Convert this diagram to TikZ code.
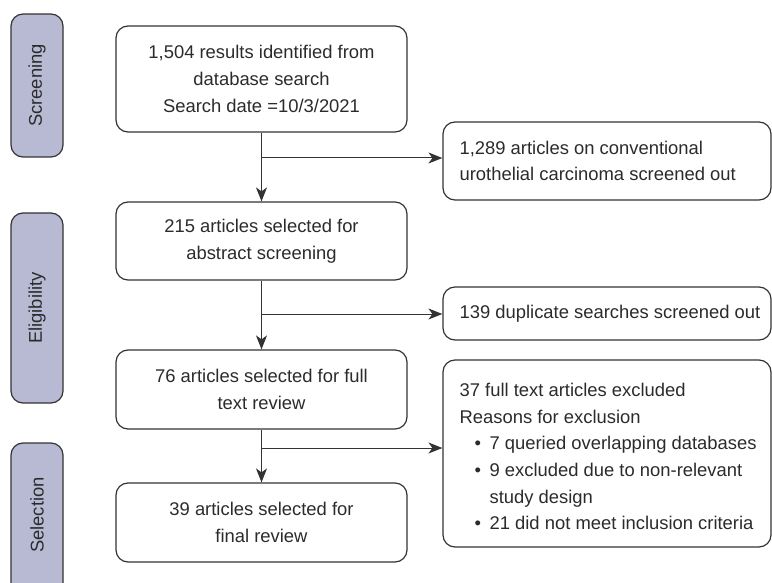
\documentclass[tikz,border=0pt]{standalone}
\usepackage{fontspec}
\setmainfont{Liberation Sans}
\usetikzlibrary{arrows.meta}
\definecolor{txt}{HTML}{2B2B2B}
\definecolor{edge}{HTML}{333333}
\definecolor{barfill}{HTML}{B8BAD4}
\begin{document}
\begin{tikzpicture}[x=1pt,y=-1pt,
  font=\fontsize{18.4}{26.7}\selectfont, text=txt,
  mainbox/.style={draw=edge, line width=1.2pt, rounded corners=12pt, align=center,
    minimum width=291pt, inner sep=0pt},
  sidebox/.style={draw=edge, line width=1.2pt, rounded corners=12pt,
    minimum width=328pt, inner sep=0pt},
  sidetext/.style={align=left, inner sep=0pt, anchor=west},
  phase/.style={draw=edge, line width=1.2pt, fill=barfill, rounded corners=12pt,
    minimum width=52pt, inner sep=0pt},
  phaselabel/.style={rotate=90, text=txt},
  flow/.style={draw=edge, line width=1pt, -{Stealth[length=14pt,width=11pt,inset=4pt]}},
  link/.style={draw=edge, line width=1pt}]
\useasboundingbox (0,0) rectangle (772,583);
% phase bars
\node[phase, minimum height=143pt] (scr) at (37,85.5) {};
\node[phaselabel] (scrl) at (37,85.5) {Screening};
\node[phase, minimum height=190pt] (eli) at (37,308) {};
\node[phaselabel] (elil) at (37,308) {Eligibility};
\begin{scope}
\clip (0,0) rectangle (772,583);
\node[phase, minimum height=170pt] (sel) at (37,528) {};
\end{scope}
\node[phaselabel] (sell) at (37,515) {Selection};
% main boxes
\node[mainbox, minimum height=106pt] (b1) at (261.5,79) {1,504 results identified from\\database search\\Search date =10/3/2021};
\node[mainbox, minimum height=78pt] (b2) at (261.5,241) {215 articles selected for\\abstract screening};
\node[mainbox, minimum height=79pt] (b3) at (261.5,389.5) {76 articles selected for full\\text review};
\node[mainbox, minimum height=79pt] (b4) at (261.5,522.5) {39 articles selected for\\final review};
% side boxes
\node[sidebox, minimum height=78pt] (r1) at (607,161) {};
\node[sidetext] (r1t) at ([xshift=17pt]r1.west) {1,289 articles on conventional\\urothelial carcinoma screened out};
\node[sidebox, minimum height=53pt] (r2) at (607,313.5) {};
\node[sidetext] (r2t) at ([xshift=17pt]r2.west) {139 duplicate searches screened out};
\node[sidebox, minimum height=187pt] (r3) at (607,453.5) {};
\node[sidetext] (r3t) at ([xshift=17pt,yshift=-3pt]r3.west) {37 full text articles excluded\\Reasons for exclusion\\
\hspace*{15pt}\makebox[15pt][l]{•}7 queried overlapping databases\\
\hspace*{15pt}\makebox[15pt][l]{•}9 excluded due to non-relevant\\
\hspace*{30pt}study design\\
\hspace*{15pt}\makebox[15pt][l]{•}21 did not meet inclusion criteria};
% connectors
\coordinate (j1) at (261.5,158);
\coordinate (j2) at (261.5,314);
\coordinate (j3) at (261.5,448);
\draw[link] (b1.south) -- (j1);
\draw[flow] (j1) -- (b2.north);
\draw[flow] (j1) -- (r1.west |- j1);
\draw[link] (b2.south) -- (j2);
\draw[flow] (j2) -- (b3.north);
\draw[flow] (j2) -- (r2.west |- j2);
\draw[link] (b3.south) -- (j3);
\draw[flow] (j3) -- (b4.north);
\draw[flow] (j3) -- (r3.west |- j3);
\end{tikzpicture}
\end{document}
